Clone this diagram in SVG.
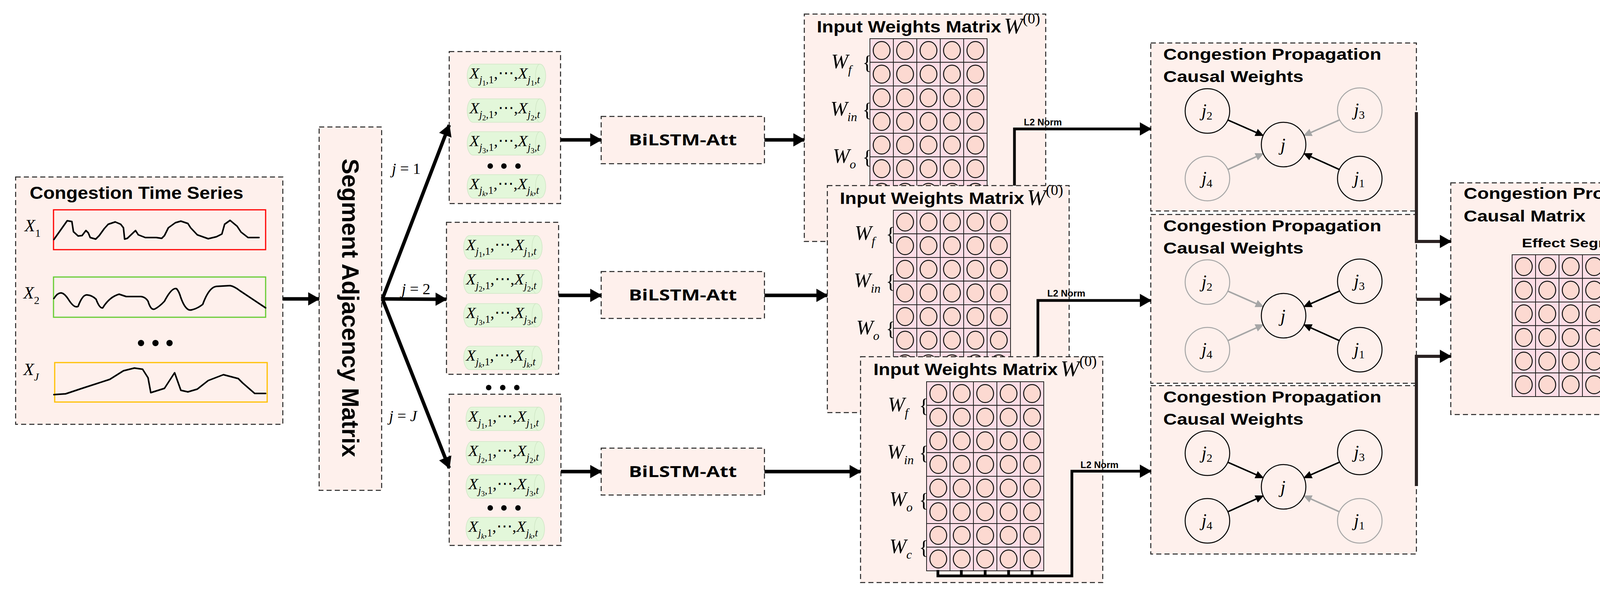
<svg xmlns="http://www.w3.org/2000/svg" xmlns:xlink="http://www.w3.org/1999/xlink" width="4437" height="1528" viewBox="0 0 4437 1528">
<style>
.box{fill:#fef0ec;stroke:#222;stroke-width:2.5;stroke-dasharray:13 8}
.t{font-family:"Liberation Sans",Arial,sans-serif;font-weight:bold;fill:#000}
.os{font-family:"Open Sans","Liberation Sans",sans-serif;font-weight:bold;fill:#000}
.m{font-family:"Liberation Serif","DejaVu Serif",serif;font-style:italic;fill:#000}
.up{font-style:normal}
.cr{fill:#fddde6;stroke:#222;stroke-width:2}
.cc{fill:#fcd9d1;stroke:#111;stroke-width:2.5}
.pf{fill:#e3f7da;stroke:#cfe6c5;stroke-width:1.5}
.ts{fill:none;stroke:#000;stroke-width:4;stroke-linejoin:round;stroke-linecap:round}
.ar{fill:none;stroke:#000;stroke-width:9}
.l2{fill:none;stroke:#000;stroke-width:7}
.bus{fill:none;stroke:#2a2222;stroke-width:8}
.nd{fill:#fef0ec;stroke:#000;stroke-width:2.5}
.ndg{fill:#fef0ec;stroke:#a6a6a6;stroke-width:2.5}
.eb{stroke:#000;stroke-width:4;marker-end:url(#sb)}
.eg{stroke:#a6a6a6;stroke-width:4;marker-end:url(#sg)}
.dot{fill:#000}
.wl{font-size:52px}
.br{font-family:"Liberation Serif",serif;font-size:50px;fill:#000}
</style>
<defs>
<marker id="big" markerUnits="userSpaceOnUse" markerWidth="30" markerHeight="34" refX="28" refY="17" orient="auto"><path d="M0,0 L30,17 L0,34 Z" fill="#000"/></marker>
<marker id="sb" markerUnits="userSpaceOnUse" markerWidth="22" markerHeight="20" refX="20" refY="10" orient="auto"><path d="M0,0 L22,10 L0,20 Z" fill="#000"/></marker>
<marker id="sg" markerUnits="userSpaceOnUse" markerWidth="22" markerHeight="20" refX="20" refY="10" orient="auto"><path d="M0,0 L22,10 L0,20 Z" fill="#a6a6a6"/></marker>
<g id="cell"><rect width="60" height="60.5" class="cr"/><ellipse cx="30" cy="30.25" rx="21.5" ry="23" class="cc"/></g>
<g id="row5"><use href="#cell"/><use href="#cell" x="60"/><use href="#cell" x="120"/><use href="#cell" x="180"/><use href="#cell" x="240"/></g>
<g id="row6"><use href="#row5"/><use href="#cell" x="300"/></g>
<g id="grid8"><use href="#row5"/><use href="#row5" y="60.5"/><use href="#row5" y="121"/><use href="#row5" y="181.5"/><use href="#row5" y="242"/><use href="#row5" y="302.5"/><use href="#row5" y="363"/><use href="#row5" y="423.5"/></g>
<g id="grid6"><use href="#row6"/><use href="#row6" y="60.5"/><use href="#row6" y="121"/><use href="#row6" y="181.5"/><use href="#row6" y="242"/><use href="#row6" y="302.5"/></g>
<g id="pill"><path class="pf" d="M15,0 H186 A15,30 0 0 1 186,60 H15 A15,30 0 0 1 15,0 Z"/><path d="M186,0 A11,30 0 0 0 186,60" fill="none" stroke="#cfe6c5" stroke-width="1.5"/></g>
</defs>

<g id="time-series">
<rect class="box" x="40" y="453" width="684" height="633"/>
<text class="t" x="76" y="509" font-size="44" textLength="547" lengthAdjust="spacingAndGlyphs">Congestion Time Series</text>
<text class="m" x="63" y="592" font-size="44">X<tspan class="up" font-size="28" dy="14">1</tspan></text>
<text class="m" x="60" y="764" font-size="44">X<tspan class="up" font-size="28" dy="14">2</tspan></text>
<text class="m" x="60" y="960" font-size="44">X<tspan font-size="28" dy="14">J</tspan></text>
<rect x="137" y="537" width="543" height="102" fill="none" stroke="#ff0000" stroke-width="3"/>
<rect x="137" y="709" width="543" height="103" fill="none" stroke="#66cc33" stroke-width="3"/>
<rect x="140" y="928" width="544" height="101" fill="none" stroke="#ffc000" stroke-width="3"/>
<path class="ts" d="M138,613 L172,565 L184,567 L188,593 L200,604 L210,603 L220,590 L226,596 L231,608 L245,612 L254,603 L267,585 L277,574 L295,568 L309,574 L316,583 L319,612 L326,610 L347,590 L354,601 L372,608 L400,608 L414,610 L421,603 L431,583 L449,570 L463,566 L481,572 L488,583 L505,601 L533,611 L554,606 L568,599 L575,574 L589,564 L607,579 L617,594 L635,608 L663,608"/>
<path class="ts" d="M138,764 Q148,748 158,750 Q166,752 175,766 Q190,790 200,784 Q212,752 224,755 Q236,756 246,766 Q255,790 263,788 Q280,760 305,753 L323,759 L361,759 Q372,760 379,771 Q386,795 396,791 Q408,785 421,771 Q440,735 452,739 Q458,745 463,762 Q476,798 491,793 Q505,790 519,779 Q535,735 554,733 L589,731 Q600,733 614,744 L680,788"/>
<path class="ts" d="M138,1010 L168,1008 L210,994 L281,971 L316,949 L344,942 L365,945 L379,967 L386,1005 L421,994 L447,954 L463,999 L481,1003 L505,996 L533,974 L572,959 L610,969 L621,980 L652,1007 L680,1007"/>
<circle class="dot" cx="361" cy="878" r="8"/><circle class="dot" cx="398" cy="878" r="8"/><circle class="dot" cx="434" cy="878" r="8"/>
</g>

<g id="adjacency">
<rect class="box" x="817" y="325" width="160" height="930"/>
<text class="t" x="0" y="0" font-size="62" text-anchor="middle" textLength="764" lengthAdjust="spacingAndGlyphs" transform="translate(876,788) rotate(90)">Segment Adjacency Matrix</text>
</g>

<g id="seq1">
<rect class="box" x="1150" y="132" width="285" height="389"/>
<use href="#pill" x="1196" y="164"/><use href="#pill" x="1196" y="253"/><use href="#pill" x="1196" y="337"/><use href="#pill" x="1196" y="447"/>
<text class="m" x="1202" y="201" font-size="41">X<tspan font-size="27" dy="12">j</tspan><tspan class="up" font-size="19" dy="6">1</tspan><tspan class="up" font-size="27" dy="-6">,1</tspan><tspan class="up" dy="-12">,⋯,</tspan>X<tspan font-size="27" dy="12">j</tspan><tspan class="up" font-size="19" dy="6">1</tspan><tspan font-size="27" dy="-6">,t</tspan></text>
<text class="m" x="1202" y="290" font-size="41">X<tspan font-size="27" dy="12">j</tspan><tspan class="up" font-size="19" dy="6">2</tspan><tspan class="up" font-size="27" dy="-6">,1</tspan><tspan class="up" dy="-12">,⋯,</tspan>X<tspan font-size="27" dy="12">j</tspan><tspan class="up" font-size="19" dy="6">2</tspan><tspan font-size="27" dy="-6">,t</tspan></text>
<text class="m" x="1202" y="374" font-size="41">X<tspan font-size="27" dy="12">j</tspan><tspan class="up" font-size="19" dy="6">3</tspan><tspan class="up" font-size="27" dy="-6">,1</tspan><tspan class="up" dy="-12">,⋯,</tspan>X<tspan font-size="27" dy="12">j</tspan><tspan class="up" font-size="19" dy="6">3</tspan><tspan font-size="27" dy="-6">,t</tspan></text>
<text class="m" x="1202" y="484" font-size="41">X<tspan font-size="27" dy="12">j</tspan><tspan font-size="19" dy="6">k</tspan><tspan class="up" font-size="27" dy="-6">,1</tspan><tspan class="up" dy="-12">,⋯,</tspan>X<tspan font-size="27" dy="12">j</tspan><tspan font-size="19" dy="6">k</tspan><tspan font-size="27" dy="-6">,t</tspan></text>
<circle class="dot" cx="1255" cy="425" r="7"/><circle class="dot" cx="1290" cy="425" r="7"/><circle class="dot" cx="1326" cy="425" r="7"/>
</g>

<g id="seq2">
<rect class="box" x="1143" y="569" width="287" height="389"/>
<use href="#pill" x="1187" y="603"/><use href="#pill" x="1187" y="691"/><use href="#pill" x="1187" y="777"/><use href="#pill" x="1187" y="886"/>
<text class="m" x="1193" y="640" font-size="41">X<tspan font-size="27" dy="12">j</tspan><tspan class="up" font-size="19" dy="6">1</tspan><tspan class="up" font-size="27" dy="-6">,1</tspan><tspan class="up" dy="-12">,⋯,</tspan>X<tspan font-size="27" dy="12">j</tspan><tspan class="up" font-size="19" dy="6">1</tspan><tspan font-size="27" dy="-6">,t</tspan></text>
<text class="m" x="1193" y="728" font-size="41">X<tspan font-size="27" dy="12">j</tspan><tspan class="up" font-size="19" dy="6">2</tspan><tspan class="up" font-size="27" dy="-6">,1</tspan><tspan class="up" dy="-12">,⋯,</tspan>X<tspan font-size="27" dy="12">j</tspan><tspan class="up" font-size="19" dy="6">2</tspan><tspan font-size="27" dy="-6">,t</tspan></text>
<text class="m" x="1193" y="814" font-size="41">X<tspan font-size="27" dy="12">j</tspan><tspan class="up" font-size="19" dy="6">3</tspan><tspan class="up" font-size="27" dy="-6">,1</tspan><tspan class="up" dy="-12">,⋯,</tspan>X<tspan font-size="27" dy="12">j</tspan><tspan class="up" font-size="19" dy="6">3</tspan><tspan font-size="27" dy="-6">,t</tspan></text>
<text class="m" x="1193" y="923" font-size="41">X<tspan font-size="27" dy="12">j</tspan><tspan font-size="19" dy="6">k</tspan><tspan class="up" font-size="27" dy="-6">,1</tspan><tspan class="up" dy="-12">,⋯,</tspan>X<tspan font-size="27" dy="12">j</tspan><tspan font-size="19" dy="6">k</tspan><tspan font-size="27" dy="-6">,t</tspan></text>
</g>
<g id="seq-dots"><circle class="dot" cx="1251" cy="992" r="7"/><circle class="dot" cx="1287" cy="992" r="7"/><circle class="dot" cx="1323" cy="992" r="7"/></g>

<g id="seq3">
<rect class="box" x="1150" y="1009" width="286" height="387"/>
<use href="#pill" x="1193" y="1042"/><use href="#pill" x="1193" y="1130"/><use href="#pill" x="1193" y="1215"/><use href="#pill" x="1193" y="1324"/>
<text class="m" x="1199" y="1079" font-size="41">X<tspan font-size="27" dy="12">j</tspan><tspan class="up" font-size="19" dy="6">1</tspan><tspan class="up" font-size="27" dy="-6">,1</tspan><tspan class="up" dy="-12">,⋯,</tspan>X<tspan font-size="27" dy="12">j</tspan><tspan class="up" font-size="19" dy="6">1</tspan><tspan font-size="27" dy="-6">,t</tspan></text>
<text class="m" x="1199" y="1167" font-size="41">X<tspan font-size="27" dy="12">j</tspan><tspan class="up" font-size="19" dy="6">2</tspan><tspan class="up" font-size="27" dy="-6">,1</tspan><tspan class="up" dy="-12">,⋯,</tspan>X<tspan font-size="27" dy="12">j</tspan><tspan class="up" font-size="19" dy="6">2</tspan><tspan font-size="27" dy="-6">,t</tspan></text>
<text class="m" x="1199" y="1252" font-size="41">X<tspan font-size="27" dy="12">j</tspan><tspan class="up" font-size="19" dy="6">3</tspan><tspan class="up" font-size="27" dy="-6">,1</tspan><tspan class="up" dy="-12">,⋯,</tspan>X<tspan font-size="27" dy="12">j</tspan><tspan class="up" font-size="19" dy="6">3</tspan><tspan font-size="27" dy="-6">,t</tspan></text>
<text class="m" x="1199" y="1361" font-size="41">X<tspan font-size="27" dy="12">j</tspan><tspan font-size="19" dy="6">k</tspan><tspan class="up" font-size="27" dy="-6">,1</tspan><tspan class="up" dy="-12">,⋯,</tspan>X<tspan font-size="27" dy="12">j</tspan><tspan font-size="19" dy="6">k</tspan><tspan font-size="27" dy="-6">,t</tspan></text>
<circle class="dot" cx="1255" cy="1300" r="7"/><circle class="dot" cx="1290" cy="1300" r="7"/><circle class="dot" cx="1326" cy="1300" r="7"/>
</g>

<g id="bilstm1"><rect class="box" x="1539" y="298" width="418" height="121"/><text class="os" x="1748" y="372" font-size="40" text-anchor="middle" textLength="277" lengthAdjust="spacingAndGlyphs">BiLSTM-Att</text></g>
<g id="bilstm2"><rect class="box" x="1539" y="695" width="418" height="120"/><text class="os" x="1748" y="769" font-size="40" text-anchor="middle" textLength="277" lengthAdjust="spacingAndGlyphs">BiLSTM-Att</text></g>
<g id="bilstm3"><rect class="box" x="1539" y="1147" width="418" height="120"/><text class="os" x="1748" y="1221" font-size="40" text-anchor="middle" textLength="277" lengthAdjust="spacingAndGlyphs">BiLSTM-Att</text></g>

<g id="weights1">
<rect class="box" x="2059" y="36" width="618" height="582"/>
<text class="t" x="2091" y="83" font-size="42" textLength="472" lengthAdjust="spacingAndGlyphs">Input Weights Matrix</text>
<text class="m" x="2570" y="86" font-size="58">W<tspan class="up" font-size="38" dy="-26">(0)</tspan></text>
<use href="#grid8" x="2227" y="99"/>
<text class="m wl" x="2128" y="175">W<tspan font-size="32" dy="14">f</tspan></text>
<text class="m wl" x="2126" y="296">W<tspan font-size="32" dy="14">in</tspan></text>
<text class="m wl" x="2132" y="417">W<tspan font-size="32" dy="14">o</tspan></text>
<text class="br" x="2208" y="177">{</text><text class="br" x="2208" y="298">{</text><text class="br" x="2208" y="419">{</text>
</g>

<g id="weights2">
<rect class="box" x="2118" y="475" width="619" height="581"/>
<text class="t" x="2150" y="522" font-size="42" textLength="472" lengthAdjust="spacingAndGlyphs">Input Weights Matrix</text>
<text class="m" x="2629" y="525" font-size="58">W<tspan class="up" font-size="38" dy="-26">(0)</tspan></text>
<use href="#grid8" x="2287" y="538"/>
<text class="m wl" x="2188" y="614">W<tspan font-size="32" dy="14">f</tspan></text>
<text class="m wl" x="2186" y="735">W<tspan font-size="32" dy="14">in</tspan></text>
<text class="m wl" x="2192" y="856">W<tspan font-size="32" dy="14">o</tspan></text>
<text class="br" x="2268" y="616">{</text><text class="br" x="2268" y="737">{</text><text class="br" x="2268" y="858">{</text>
</g>

<g id="weights3">
<rect class="box" x="2203" y="913" width="620" height="578"/>
<text class="t" x="2236" y="960" font-size="42" textLength="472" lengthAdjust="spacingAndGlyphs">Input Weights Matrix</text>
<text class="m" x="2715" y="963" font-size="58">W<tspan class="up" font-size="38" dy="-26">(0)</tspan></text>
<use href="#grid8" x="2372" y="977"/>
<text class="m wl" x="2273" y="1053">W<tspan font-size="32" dy="14">f</tspan></text>
<text class="m wl" x="2271" y="1174">W<tspan font-size="32" dy="14">in</tspan></text>
<text class="m wl" x="2277" y="1295">W<tspan font-size="32" dy="14">o</tspan></text>
<text class="m wl" x="2277" y="1416">W<tspan font-size="32" dy="14">c</tspan></text>
<text class="br" x="2353" y="1055">{</text><text class="br" x="2353" y="1176">{</text><text class="br" x="2353" y="1297">{</text><text class="br" x="2353" y="1418">{</text>
</g>

<g id="causal1">
<rect class="box" x="2946" y="110" width="680" height="430"/>
<text class="t" x="2978" y="153" font-size="40" textLength="558" lengthAdjust="spacingAndGlyphs">Congestion Propagation</text>
<text class="t" x="2978" y="210" font-size="40" textLength="359" lengthAdjust="spacingAndGlyphs">Causal Weights</text>
<g transform="translate(3286,370)">
<line class="eb" x1="-143" y1="-63" x2="-52" y2="-23"/>
<line class="eg" x1="143" y1="-63" x2="52" y2="-23"/>
<line class="eg" x1="-143" y1="64" x2="-52" y2="23"/>
<line class="eb" x1="143" y1="64" x2="52" y2="23"/>
<circle class="nd" r="57"/><circle class="nd" cx="-195" cy="-86" r="57"/><circle class="ndg" cx="195" cy="-88" r="57"/><circle class="ndg" cx="-195" cy="87" r="57"/><circle class="nd" cx="195" cy="87" r="57"/>
<text class="m" x="-8" y="16" font-size="46">j</text>
<text class="m" x="-210" y="-72" font-size="46">j<tspan class="up" font-size="30" dy="8">2</tspan></text>
<text class="m" x="180" y="-74" font-size="46">j<tspan class="up" font-size="30" dy="8">3</tspan></text>
<text class="m" x="-210" y="101" font-size="46">j<tspan class="up" font-size="30" dy="8">4</tspan></text>
<text class="m" x="180" y="101" font-size="46">j<tspan class="up" font-size="30" dy="8">1</tspan></text>
</g>
</g>

<g id="causal2">
<rect class="box" x="2946" y="549" width="680" height="432"/>
<text class="t" x="2978" y="592" font-size="40" textLength="558" lengthAdjust="spacingAndGlyphs">Congestion Propagation</text>
<text class="t" x="2978" y="649" font-size="40" textLength="359" lengthAdjust="spacingAndGlyphs">Causal Weights</text>
<g transform="translate(3286,808)">
<line class="eg" x1="-143" y1="-63" x2="-52" y2="-23"/>
<line class="eb" x1="143" y1="-63" x2="52" y2="-23"/>
<line class="eg" x1="-143" y1="64" x2="-52" y2="23"/>
<line class="eb" x1="143" y1="64" x2="52" y2="23"/>
<circle class="nd" r="57"/><circle class="ndg" cx="-195" cy="-86" r="57"/><circle class="nd" cx="195" cy="-88" r="57"/><circle class="ndg" cx="-195" cy="87" r="57"/><circle class="nd" cx="195" cy="87" r="57"/>
<text class="m" x="-8" y="16" font-size="46">j</text>
<text class="m" x="-210" y="-72" font-size="46">j<tspan class="up" font-size="30" dy="8">2</tspan></text>
<text class="m" x="180" y="-74" font-size="46">j<tspan class="up" font-size="30" dy="8">3</tspan></text>
<text class="m" x="-210" y="101" font-size="46">j<tspan class="up" font-size="30" dy="8">4</tspan></text>
<text class="m" x="180" y="101" font-size="46">j<tspan class="up" font-size="30" dy="8">1</tspan></text>
</g>
</g>

<g id="causal3">
<rect class="box" x="2946" y="987" width="680" height="431"/>
<text class="t" x="2978" y="1030" font-size="40" textLength="558" lengthAdjust="spacingAndGlyphs">Congestion Propagation</text>
<text class="t" x="2978" y="1087" font-size="40" textLength="359" lengthAdjust="spacingAndGlyphs">Causal Weights</text>
<g transform="translate(3286,1246)">
<line class="eb" x1="-143" y1="-63" x2="-52" y2="-23"/>
<line class="eb" x1="143" y1="-63" x2="52" y2="-23"/>
<line class="eb" x1="-143" y1="64" x2="-52" y2="23"/>
<line class="eg" x1="143" y1="64" x2="52" y2="23"/>
<circle class="nd" r="57"/><circle class="nd" cx="-195" cy="-86" r="57"/><circle class="nd" cx="195" cy="-88" r="57"/><circle class="nd" cx="-195" cy="87" r="57"/><circle class="ndg" cx="195" cy="87" r="57"/>
<text class="m" x="-8" y="16" font-size="46">j</text>
<text class="m" x="-210" y="-72" font-size="46">j<tspan class="up" font-size="30" dy="8">2</tspan></text>
<text class="m" x="180" y="-74" font-size="46">j<tspan class="up" font-size="30" dy="8">3</tspan></text>
<text class="m" x="-210" y="101" font-size="46">j<tspan class="up" font-size="30" dy="8">4</tspan></text>
<text class="m" x="180" y="101" font-size="46">j<tspan class="up" font-size="30" dy="8">1</tspan></text>
</g>
</g>

<g id="causal-matrix">
<rect class="box" x="3714" y="468" width="681" height="593"/>
<text class="t" x="3747" y="509" font-size="40" textLength="561" lengthAdjust="spacingAndGlyphs">Congestion Propagation</text>
<text class="t" x="3747" y="567" font-size="40" textLength="312" lengthAdjust="spacingAndGlyphs">Causal Matrix</text>
<text class="t" x="3896" y="633" font-size="32" textLength="291" lengthAdjust="spacingAndGlyphs">Effect Segment</text>
<use href="#grid6" x="3871" y="652"/>
<text class="t" x="0" y="0" font-size="32" text-anchor="middle" textLength="303" lengthAdjust="spacingAndGlyphs" transform="translate(4254,830) rotate(90)">Cause Segment</text>
</g>

<g id="connectors">
<line class="ar" x1="724" y1="765" x2="817" y2="765" marker-end="url(#big)"/>
<line class="ar" x1="979" y1="765" x2="1150" y2="320" marker-end="url(#big)"/>
<line class="ar" x1="979" y1="765" x2="1143" y2="766" marker-end="url(#big)"/>
<line class="ar" x1="979" y1="765" x2="1150" y2="1198" marker-end="url(#big)"/>
<line class="ar" x1="1435" y1="358" x2="1539" y2="358" marker-end="url(#big)"/>
<line class="ar" x1="1957" y1="358" x2="2059" y2="358" marker-end="url(#big)"/>
<line class="ar" x1="1430" y1="756" x2="1539" y2="756" marker-end="url(#big)"/>
<line class="ar" x1="1957" y1="756" x2="2118" y2="756" marker-end="url(#big)"/>
<line class="ar" x1="1436" y1="1207" x2="1539" y2="1207" marker-end="url(#big)"/>
<line class="ar" x1="1957" y1="1207" x2="2203" y2="1207" marker-end="url(#big)"/>
<polyline class="l2" points="2597,475 2597,330 2946,330" marker-end="url(#big)"/>
<polyline class="l2" points="2657,913 2657,769 2946,769" marker-end="url(#big)"/>
<polyline class="l2" points="2401,1459 2401,1474 2744,1474 2744,1206 2946,1206" marker-end="url(#big)"/>
<path class="l2" d="M2461,1459 V1474 M2522,1459 V1474 M2582,1459 V1474 M2642,1459 V1474"/>
<polyline class="bus" points="3626,287 3626,618 3714,618" marker-end="url(#big)"/>
<line class="bus" x1="3626" y1="766" x2="3714" y2="766" marker-end="url(#big)"/>
<polyline class="bus" points="3626,1244 3626,912 3714,912" marker-end="url(#big)"/>
<text class="t" x="2621" y="321" font-size="24">L2 Norm</text>
<text class="t" x="2681" y="759" font-size="24">L2 Norm</text>
<text class="t" x="2766" y="1198" font-size="24">L2 Norm</text>
<text class="m" x="1003" y="445" font-size="40">j<tspan class="up"> = 1</tspan></text>
<text class="m" x="1028" y="753" font-size="40">j<tspan class="up"> = 2</tspan></text>
<text class="m" x="996" y="1078" font-size="40">j<tspan class="up"> = </tspan>J</text>
</g>
</svg>
